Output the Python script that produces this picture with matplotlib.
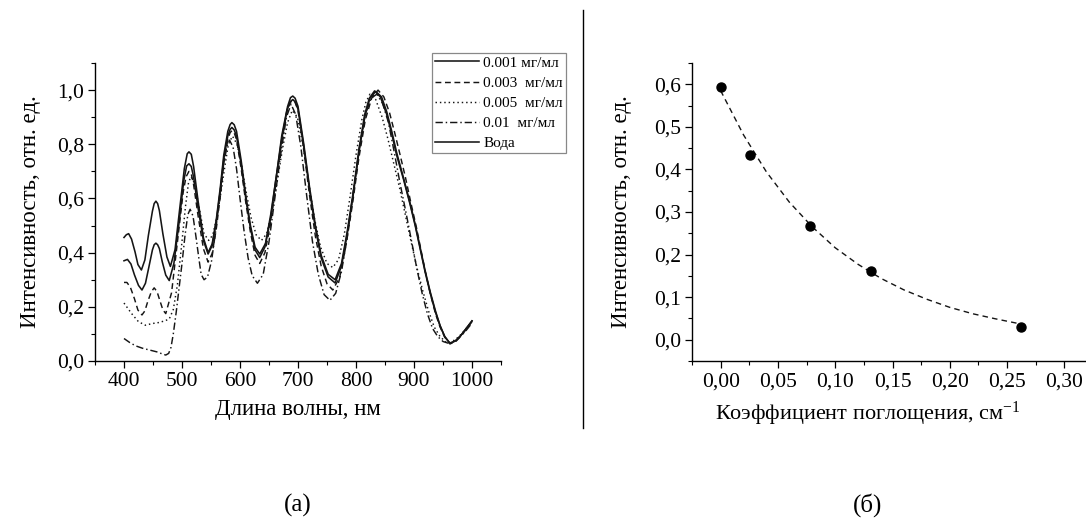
import matplotlib
matplotlib.use("Agg")
import matplotlib.pyplot as plt
from matplotlib.ticker import MultipleLocator, FuncFormatter

plt.rcParams['font.family'] = ['Liberation Serif', 'DejaVu Serif']
plt.rcParams['mathtext.fontset'] = 'custom'
plt.rcParams['mathtext.rm'] = 'Liberation Serif'
plt.rcParams['mathtext.it'] = 'Liberation Serif:italic'

# ---- (а) spectra ----
wl_water = [400, 404, 408, 413, 419, 424, 430, 436, 442, 449, 452, 455, 458, 461, 467, 474, 480, 488, 496,
            504, 509, 512, 516, 520, 528, 537, 545, 552, 559, 566, 572, 579, 583, 586, 590, 594, 602, 610,
            618, 626, 634, 644, 653, 663, 672, 682, 687, 691, 695, 700, 710, 720, 730, 740, 752, 764, 775,
            785, 795, 805, 815, 823, 832, 842, 853, 862, 870, 882, 893, 902, 910, 919, 928, 937, 945, 953,
            962, 972, 981, 990, 1000]
i_water = [0.456, 0.466, 0.470, 0.450, 0.403, 0.356, 0.336, 0.373, 0.463, 0.553, 0.581, 0.590, 0.581,
           0.555, 0.470, 0.384, 0.349, 0.411, 0.561, 0.710, 0.765, 0.772, 0.763, 0.718, 0.586, 0.454,
           0.400, 0.432, 0.520, 0.640, 0.760, 0.848, 0.873, 0.880, 0.872, 0.848, 0.740, 0.610, 0.500,
           0.420, 0.395, 0.434, 0.541, 0.687, 0.832, 0.939, 0.972, 0.978, 0.970, 0.940, 0.800, 0.640,
           0.500, 0.390, 0.320, 0.300, 0.360, 0.480, 0.620, 0.780, 0.910, 0.970, 0.997, 0.975, 0.910,
           0.835, 0.760, 0.670, 0.580, 0.500, 0.420, 0.330, 0.250, 0.180, 0.130, 0.090, 0.065, 0.075,
           0.095, 0.120, 0.148]

wl_001 = [400, 406, 412, 418, 425, 431, 437, 443, 449, 452, 455, 458, 461, 466, 472, 478, 486, 495, 503,
          508, 512, 516, 520, 528, 537, 545, 552, 559, 566, 572, 579, 583, 586, 590, 594, 602, 610, 618,
          626, 634, 643, 653, 662, 672, 681, 687, 691, 695, 700, 710, 720, 730, 740, 752, 764, 775, 785,
          795, 805, 815, 824, 834, 844, 853, 862, 870, 882, 893, 902, 910, 919, 928, 937, 945, 953, 962,
          972, 981, 990, 1000]
i_001 = [0.370, 0.375, 0.358, 0.318, 0.279, 0.262, 0.287, 0.348, 0.410, 0.429, 0.435, 0.429, 0.415,
         0.366, 0.317, 0.297, 0.360, 0.512, 0.665, 0.720, 0.728, 0.718, 0.679, 0.561, 0.444, 0.395,
         0.426, 0.512, 0.628, 0.745, 0.831, 0.855, 0.862, 0.853, 0.830, 0.725, 0.600, 0.490, 0.410,
         0.382, 0.421, 0.528, 0.673, 0.819, 0.926, 0.958, 0.965, 0.957, 0.930, 0.790, 0.630, 0.490,
         0.380, 0.310, 0.288, 0.350, 0.470, 0.610, 0.770, 0.900, 0.970, 0.995, 0.975, 0.920, 0.845,
         0.770, 0.675, 0.585, 0.505, 0.425, 0.335, 0.255, 0.185, 0.130, 0.090, 0.065, 0.075, 0.095,
         0.120, 0.148]

wl_003 = [400, 405, 411, 418, 424, 431, 436, 441, 447, 452, 457, 462, 467, 472, 482, 492, 502, 507, 512,
          516, 520, 528, 537, 545, 552, 559, 566, 572, 579, 583, 586, 590, 594, 602, 610, 618, 626, 634,
          643, 653, 662, 672, 681, 687, 691, 695, 700, 710, 720, 730, 740, 750, 760, 772, 783, 794, 805,
          816, 827, 838, 848, 858, 867, 875, 885, 895, 904, 912, 920, 928, 937, 945, 953, 962, 972, 981,
          990, 1000]
i_003 = [0.290, 0.290, 0.272, 0.230, 0.188, 0.170, 0.185, 0.220, 0.255, 0.270, 0.256, 0.222, 0.189,
         0.175, 0.252, 0.437, 0.623, 0.680, 0.700, 0.690, 0.651, 0.532, 0.414, 0.365, 0.397, 0.486,
         0.607, 0.729, 0.818, 0.843, 0.850, 0.842, 0.818, 0.710, 0.585, 0.475, 0.390, 0.360, 0.400,
         0.510, 0.661, 0.811, 0.922, 0.955, 0.962, 0.955, 0.925, 0.780, 0.610, 0.460, 0.350, 0.285,
         0.262, 0.310, 0.430, 0.580, 0.750, 0.890, 0.970, 1.000, 0.975, 0.915, 0.840, 0.770, 0.680,
         0.580, 0.495, 0.410, 0.325, 0.250, 0.175, 0.125, 0.088, 0.063, 0.072, 0.092, 0.117, 0.145]

wl_005 = [400, 408, 415, 425, 437, 448, 460, 470, 478, 485, 492, 499, 506, 511, 515, 519, 523, 531, 538,
          546, 553, 560, 567, 574, 580, 587, 595, 603, 611, 619, 628, 637, 646, 655, 664, 673, 682, 690,
          699, 709, 719, 729, 739, 750, 760, 770, 780, 790, 800, 810, 817, 824, 834, 845, 855, 865, 875,
          885, 895, 905, 915, 925, 935, 945, 955, 962, 972, 981, 990, 1000]
i_005 = [0.214, 0.190, 0.170, 0.145, 0.132, 0.138, 0.142, 0.148, 0.155, 0.190, 0.280, 0.420, 0.570,
         0.655, 0.680, 0.670, 0.640, 0.550, 0.470, 0.445, 0.465, 0.530, 0.620, 0.720, 0.800, 0.830,
         0.800, 0.720, 0.620, 0.530, 0.465, 0.445, 0.470, 0.550, 0.660, 0.780, 0.880, 0.925, 0.900,
         0.790, 0.650, 0.520, 0.420, 0.360, 0.345, 0.375, 0.470, 0.610, 0.760, 0.890, 0.955, 0.985,
         0.965, 0.900, 0.820, 0.730, 0.640, 0.540, 0.440, 0.345, 0.260, 0.185, 0.125, 0.090, 0.070,
         0.068, 0.080, 0.098, 0.120, 0.145]

wl_01 = [400, 410, 420, 432, 445, 458, 466, 472, 477, 481, 485, 490, 495, 500, 505, 510, 514, 519, 524,
         529, 533, 538, 544, 551, 558, 565, 572, 577, 582, 588, 594, 600, 607, 614, 621, 630, 640, 650,
         660, 670, 680, 688, 696, 705, 715, 725, 735, 745, 755, 765, 775, 785, 795, 806, 816, 826, 836,
         846, 856, 866, 876, 886, 896, 905, 914, 923, 932, 941, 950, 960, 970, 980, 990, 1000]
i_01 = [0.083, 0.068, 0.056, 0.047, 0.040, 0.033, 0.026, 0.022, 0.028, 0.050, 0.100, 0.180, 0.270,
        0.360, 0.460, 0.540, 0.560, 0.535, 0.460, 0.380, 0.320, 0.300, 0.310, 0.370, 0.480, 0.610,
        0.730, 0.790, 0.815, 0.790, 0.710, 0.600, 0.480, 0.380, 0.315, 0.287, 0.320, 0.440, 0.600,
        0.760, 0.900, 0.948, 0.910, 0.790, 0.610, 0.440, 0.320, 0.245, 0.224, 0.250, 0.330, 0.460,
        0.620, 0.790, 0.910, 0.970, 0.985, 0.950, 0.880, 0.770, 0.655, 0.550, 0.440, 0.340, 0.250,
        0.175, 0.120, 0.090, 0.072, 0.065, 0.072, 0.090, 0.113, 0.140]

labels_a = ['0.001 мг/мл', '0.003  мг/мл', '0.005  мг/мл', '0.01  мг/мл', 'Вода']

# ---- (б) intensity vs absorption ----
k_pts = [0.0, 0.026, 0.078, 0.131, 0.262]
i_pts = [0.593, 0.433, 0.268, 0.162, 0.030]
k_fit = [0.0, 0.02, 0.04, 0.06, 0.08, 0.10, 0.12, 0.14, 0.16, 0.18, 0.20, 0.22, 0.24, 0.26]
i_fit = [0.585, 0.481, 0.394, 0.323, 0.265, 0.216, 0.177, 0.144, 0.117, 0.095, 0.076, 0.061, 0.049, 0.038]

W, H = 1086, 530
fig = plt.figure(figsize=(W / 100, H / 100), dpi=100)

def style(ax):
    for s in ['top', 'right']:
        ax.spines[s].set_visible(False)
    for s in ['left', 'bottom']:
        ax.spines[s].set_linewidth(1.0)
    ax.tick_params(which='major', direction='out', length=5, width=0.9, labelsize=15.5, pad=3)
    ax.tick_params(which='minor', direction='out', length=3, width=0.8)

comma = lambda fmt: FuncFormatter(lambda v, p: (fmt % v).replace('.', ','))

ax1 = fig.add_axes([95 / W, 1 - 361 / H, 406 / W, 298 / H])
c = '#151515'
l1, = ax1.plot(wl_001, i_001, color=c, lw=1.15, ls='-')
l2, = ax1.plot(wl_003, i_003, color=c, lw=1.05, dashes=(4, 2.5))
l3, = ax1.plot(wl_005, i_005, color=c, lw=1.05, dashes=(1, 2))
l4, = ax1.plot(wl_01, i_01, color=c, lw=1.05, dashes=(5, 2, 1, 2))
l5, = ax1.plot(wl_water, i_water, color=c, lw=1.15, ls='-')
ax1.set_xlim(350, 1050)
ax1.set_ylim(0, 1.1)
ax1.xaxis.set_major_locator(MultipleLocator(100))
ax1.xaxis.set_minor_locator(MultipleLocator(50))
ax1.yaxis.set_major_locator(MultipleLocator(0.2))
ax1.yaxis.set_minor_locator(MultipleLocator(0.1))
ax1.yaxis.set_major_formatter(comma('%.1f'))
style(ax1)
ax1.set_xlabel('Длина волны, нм', fontsize=16.5, labelpad=6)
ax1.set_ylabel('Интенсивность, отн. ед.', fontsize=16.5, labelpad=11)

leg = fig.legend([l1, l2, l3, l4, l5], labels_a, loc='upper left',
                 bbox_to_anchor=(432 / W, 1 - 53 / H), fontsize=11, frameon=True,
                 fancybox=False, edgecolor='#888888', framealpha=1, handlelength=2.9,
                 handletextpad=0.25, labelspacing=0.42, borderpad=0.2, borderaxespad=0)
leg.get_frame().set_linewidth(0.9)

ax2 = fig.add_axes([692 / W, 1 - 361 / H, 401 / W, 298 / H])
ax2.plot(k_fit, i_fit, color=c, lw=1.0, dashes=(4, 3))
ax2.plot(k_pts, i_pts, 'o', color='black', ms=6.5)
ax2.set_xlim(-0.025, 0.325)
ax2.set_ylim(-0.05, 0.65)
ax2.xaxis.set_major_locator(MultipleLocator(0.05))
ax2.xaxis.set_minor_locator(MultipleLocator(0.025))
ax2.yaxis.set_major_locator(MultipleLocator(0.1))
ax2.yaxis.set_minor_locator(MultipleLocator(0.05))
ax2.xaxis.set_major_formatter(comma('%.2f'))
ax2.yaxis.set_major_formatter(comma('%.1f'))
style(ax2)
ax2.set_yticks([v / 10 for v in range(7)])
ax2.set_xlabel('Коэффициент поглощения, см$^{-1}$', fontsize=16)
ax2.xaxis.set_label_coords((868 - 692) / 401, -0.13)
ax2.set_ylabel('Интенсивность, отн. ед.', fontsize=16.5, labelpad=16)

# separator and captions
fig.add_artist(plt.Line2D([583 / W, 583 / W], [1 - 10 / H, 1 - 428 / H], color='black', lw=1.0))
fig.text(298 / W, 1 - 505 / H, '(а)', fontsize=18, ha='center', va='center')
fig.text(868 / W, 1 - 505 / H, '(б)', fontsize=18, ha='center', va='center')

fig.savefig('out.png', dpi=100)
